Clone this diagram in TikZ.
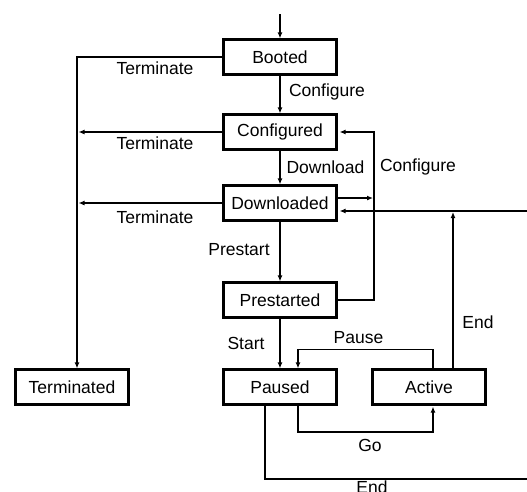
\documentclass[tikz,border=0pt]{standalone}
\usepackage{fontspec}
\setmainfont{Liberation Sans}
\usetikzlibrary{arrows.meta,calc}
\begin{document}
\begin{tikzpicture}[x=1pt,y=-1pt,
  font=\fontsize{17.5}{20}\selectfont,
  statebox/.style={draw, line width=2.2pt, minimum width=113pt, minimum height=35pt, inner sep=0pt},
  conn/.style={line width=1.8pt},
  arr/.style={conn, -{Latex[length=6pt,width=5pt]}},
  lbl/.style={inner sep=0pt}]
\useasboundingbox (0,0) rectangle (527,491);

\node[statebox] (booted) at (280,57) {Booted};
\node[statebox] (configured) at (280,132) {Configured};
\node[statebox] (downloaded) at (280,203) {Downloaded};
\node[statebox] (prestarted) at (280,300) {Prestarted};
\node[statebox] (paused) at (280,387) {Paused};
\node[statebox] (active) at (429,387) {Active};
\node[statebox] (terminated) at (72,387) {Terminated};

\coordinate (entry) at (280,14);
\coordinate (tl) at (77,57);
\coordinate (vx) at (374,300);
\coordinate (rin) at (530,211);
\coordinate (rbot) at (530,479);

% entry
\draw[arr] (entry) -- (booted.north);
% terminate
\draw[arr] (booted.west) -- (tl) -- (tl |- terminated.north);
\draw[arr, shorten >=1.5pt] (configured.west) -- (configured.west -| tl);
\draw[arr, shorten >=1.5pt] (downloaded.west) -- (downloaded.west -| tl);
\node[lbl] at (155,68) {Terminate};
\node[lbl] at (155,143) {Terminate};
\node[lbl] at (155,217) {Terminate};

% main chain
\draw[arr] (booted.south) -- (configured.north);
\node[lbl] at (327,92) {Configure};
\draw[arr] (configured.south) -- (downloaded.north);
\node[lbl] at (325.5,167) {Download};
\draw[arr] (downloaded.south) -- (prestarted.north);
\node[lbl] at (239,250) {Prestart};
\draw[arr] (prestarted.south) -- (paused.north);
\node[lbl] at (246,343) {Start};

% configure loop
\draw[arr, shorten >=2pt] (prestarted.east) -- (vx) -- (vx |- configured.east) -- (configured.east);
\node[lbl] at (418,167) {Configure};
\coordinate (dup) at ($(downloaded.east)+(0,-5)$);
\draw[arr, shorten >=1pt] (dup) -- (vx |- dup);

% end into downloaded
\draw[arr, shorten >=2pt] (rin) -- (rin -| downloaded.east);
\coordinate (ae) at ($(active.north)+(24,0)$);
\draw[arr, shorten >=1pt] (ae) -- (ae |- rin);
\node[lbl] at (478,322) {End};

% pause
\coordinate (pa) at ($(active.north)+(4,0)$);
\coordinate (pp) at ($(paused.north)+(18,0)$);
\draw[arr] (pa) -- ++(0,-19) -| (pp);
\node[lbl] at (358.5,338) {Pause};

% go
\coordinate (gp) at ($(paused.south)+(18,0)$);
\coordinate (ga) at ($(active.south)+(4,0)$);
\draw[arr, shorten >=1pt] (gp) -- ++(0,26) -| (ga);
\node[lbl] at (370,445) {Go};

% end from paused
\draw[conn] ($(paused.south)+(-15,0)$) |- (rbot);
\node[lbl, anchor=base] at (372,493.5) {End};
\end{tikzpicture}
\end{document}
